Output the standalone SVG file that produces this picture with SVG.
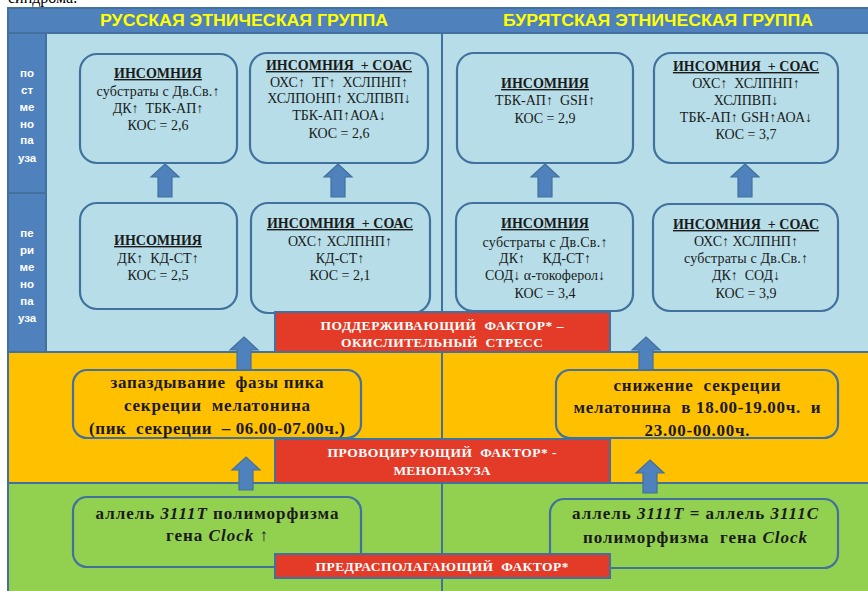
<svg xmlns="http://www.w3.org/2000/svg" xmlns:xlink="http://www.w3.org/1999/xlink" width="868" height="591" viewBox="0 0 868 591" xml:space="preserve">
<style>
text{white-space:pre}
.band{stroke:#41719C;stroke-width:2}
.node{stroke:#41719C;stroke-width:2.2}
.red{fill:#E33B28;stroke:#41719C;stroke-width:2}
.hdr{font-family:"Liberation Sans",Arial,sans-serif;font-weight:bold;font-size:16px;fill:#FFFF00;text-anchor:middle}
.side{font-family:"Liberation Sans",Arial,sans-serif;font-weight:bold;font-size:11.5px;fill:#FFFFFF;text-anchor:middle}
.t{font-family:"Liberation Serif","Times New Roman",serif;font-size:14px;fill:#1a1a1a;text-anchor:middle}
.ti{font-weight:bold;text-decoration:underline}
.b{font-family:"Liberation Serif","Times New Roman",serif;font-size:17px;font-weight:bold;fill:#1a1a1a;text-anchor:middle}
.rt{font-family:"Liberation Serif","Times New Roman",serif;font-size:13.5px;font-weight:bold;fill:#FFFFFF;text-anchor:middle}
.arr{fill:#4F81BD;stroke:#41719C;stroke-width:1.2}
</style>
<defs>
<path id="ua" d="M0,0 L14,13 L7,13 L7,33 L-7,33 L-7,13 L-14,13 Z"/>
</defs>
<rect width="868" height="591" fill="#FFFFFF"/>
<text x="8" y="3" font-family="Liberation Serif,serif" font-size="16" fill="#000">синдрома.</text>
<g id="background">
<rect class="band" x="8" y="8" width="862" height="25" fill="#4F81BD"/>
<rect class="band" x="46" y="33" width="824" height="319" fill="#B7DEE8"/>
<rect class="band" x="8" y="33" width="38" height="160" fill="#4F81BD"/>
<rect class="band" x="8" y="193" width="38" height="159" fill="#4F81BD"/>
<rect class="band" x="8" y="352" width="862" height="131" fill="#FFC000"/>
<rect class="band" x="8" y="483" width="862" height="110" fill="#92D050"/>
<line x1="442" y1="33" x2="442" y2="591" stroke="#41719C" stroke-width="2"/>
<text class="hdr" x="244" y="26" textLength="288" lengthAdjust="spacingAndGlyphs">РУССКАЯ ЭТНИЧЕСКАЯ ГРУППА</text>
<text class="hdr" x="658" y="26" textLength="310" lengthAdjust="spacingAndGlyphs">БУРЯТСКАЯ ЭТНИЧЕСКАЯ ГРУППА</text>
<g class="side">
<text x="27" y="77">по</text><text x="27" y="94">ст</text><text x="27" y="111">ме</text><text x="27" y="128">но</text><text x="27" y="144">па</text><text x="27" y="162">уза</text>
<text x="27" y="237">пе</text><text x="27" y="254">ри</text><text x="27" y="271">ме</text><text x="27" y="288">но</text><text x="27" y="305">па</text><text x="27" y="322">уза</text>
</g>
</g>
<g id="connectors">
<use xlink:href="#ua" class="arr" transform="translate(165,164)"/>
<use xlink:href="#ua" class="arr" transform="translate(338,164)"/>
<use xlink:href="#ua" class="arr" transform="translate(545,164)"/>
<use xlink:href="#ua" class="arr" transform="translate(745,164)"/>
<use xlink:href="#ua" class="arr" transform="translate(244,337)"/>
<use xlink:href="#ua" class="arr" transform="translate(646,337)"/>
<use xlink:href="#ua" class="arr" transform="translate(246,457)"/>
<use xlink:href="#ua" class="arr" transform="translate(650,460)"/>
</g>
<g id="n-ru-post-1">
<rect class="node" x="80" y="54" width="157" height="109" rx="17" fill="#B7DEE8"/>
<text class="t ti" x="158" y="78">ИНСОМНИЯ</text>
<text class="t" x="158" y="96" textLength="123" lengthAdjust="spacing">субстраты с Дв.Св.↑</text>
<text class="t" x="158" y="113">ДК↑  ТБК-АП↑</text>
<text class="t" x="158" y="130">КОС = 2,6</text>
</g>
<g id="n-ru-post-2">
<rect class="node" x="250" y="53" width="178" height="110" rx="17" fill="#B7DEE8"/>
<text class="t ti" x="339" y="70">ИНСОМНИЯ  + СОАС</text>
<text class="t" x="339" y="87">ОХС↑  ТГ↑  ХСЛПНП↑</text>
<text class="t" x="339" y="103">ХСЛПОНП↑ ХСЛПВП↓</text>
<text class="t" x="339" y="120">ТБК-АП↑АОА↓</text>
<text class="t" x="339" y="138">КОС = 2,6</text>
</g>
<g id="n-bu-post-1">
<rect class="node" x="457" y="53" width="176" height="110" rx="17" fill="#B7DEE8"/>
<text class="t ti" x="545" y="88">ИНСОМНИЯ</text>
<text class="t" x="545" y="105">ТБК-АП↑  GSH↑</text>
<text class="t" x="545" y="123">КОС = 2,9</text>
</g>
<g id="n-bu-post-2">
<rect class="node" x="654" y="53" width="184" height="110" rx="17" fill="#B7DEE8"/>
<text class="t ti" x="746" y="71">ИНСОМНИЯ  + СОАС</text>
<text class="t" x="746" y="88">ОХС↑  ХСЛПНП↑</text>
<text class="t" x="746" y="105">ХСЛПВП↓</text>
<text class="t" x="746" y="122">ТБК-АП↑ GSH↑АОА↓</text>
<text class="t" x="746" y="139">КОС = 3,7</text>
</g>
<g id="n-ru-peri-1">
<rect class="node" x="80" y="203" width="157" height="106" rx="17" fill="#B7DEE8"/>
<text class="t ti" x="158" y="245">ИНСОМНИЯ</text>
<text class="t" x="158" y="263">ДК↑  КД-СТ↑</text>
<text class="t" x="158" y="280">КОС = 2,5</text>
</g>
<g id="n-ru-peri-2">
<rect class="node" x="251" y="203" width="179" height="110" rx="17" fill="#B7DEE8"/>
<text class="t ti" x="340" y="228">ИНСОМНИЯ  + СОАС</text>
<text class="t" x="340" y="246">ОХС↑ ХСЛПНП↑</text>
<text class="t" x="340" y="263">КД-СТ↑</text>
<text class="t" x="340" y="280">КОС = 2,1</text>
</g>
<g id="n-bu-peri-1">
<rect class="node" x="456" y="203" width="177" height="108" rx="17" fill="#B7DEE8"/>
<text class="t ti" x="545" y="228">ИНСОМНИЯ</text>
<text class="t" x="545" y="247" textLength="125" lengthAdjust="spacing">субстраты с Дв.Св.↑</text>
<text class="t" x="545" y="263">ДК↑     КД-СТ↑</text>
<text class="t" x="545" y="280">СОД↓ α-токоферол↓</text>
<text class="t" x="545" y="298">КОС = 3,4</text>
</g>
<g id="n-bu-peri-2">
<rect class="node" x="653" y="204" width="185" height="107" rx="17" fill="#B7DEE8"/>
<text class="t ti" x="746" y="229">ИНСОМНИЯ  + СОАС</text>
<text class="t" x="746" y="246">ОХС↑ ХСЛПНП↑</text>
<text class="t" x="746" y="263" textLength="124" lengthAdjust="spacing">субстраты с Дв.Св.↑</text>
<text class="t" x="746" y="280">ДК↑  СОД↓</text>
<text class="t" x="746" y="298">КОС = 3,9</text>
</g>
<g id="f-oxidative">
<rect class="red" x="275" y="312" width="335" height="40"/>
<text class="rt" x="442" y="330" textLength="243" lengthAdjust="spacing">ПОДДЕРЖИВАЮЩИЙ  ФАКТОР* –</text>
<text class="rt" x="442" y="347" textLength="202" lengthAdjust="spacing">ОКИСЛИТЕЛЬНЫЙ  СТРЕСС</text>
</g>
<g id="n-ru-melatonin">
<rect class="node" x="73" y="370" width="288" height="68" rx="14" fill="#FFC000"/>
<text class="b" x="217" y="388" textLength="213" lengthAdjust="spacing">запаздывание  фазы пика</text>
<text class="b" x="217" y="411" textLength="186" lengthAdjust="spacing">секреции  мелатонина</text>
<text class="b" x="217" y="434" textLength="256" lengthAdjust="spacing">(пик  секреции  – 06.00-07.00ч.)</text>
</g>
<g id="n-bu-melatonin">
<rect class="node" x="556" y="370" width="282" height="68" rx="14" fill="#FFC000"/>
<text class="b" x="697" y="391" textLength="167" lengthAdjust="spacing">снижение  секреции</text>
<text class="b" x="697" y="413" textLength="247" lengthAdjust="spacing">мелатонина  в 18.00-19.00ч.  и</text>
<text class="b" x="697" y="436" textLength="105" lengthAdjust="spacing">23.00-00.00ч.</text>
</g>
<g id="f-menopause">
<rect class="red" x="275" y="439" width="335" height="44"/>
<text class="rt" x="442" y="457" textLength="229" lengthAdjust="spacing">ПРОВОЦИРУЮЩИЙ  ФАКТОР* -</text>
<text class="rt" x="442" y="475" textLength="97" lengthAdjust="spacing">МЕНОПАЗУЗА</text>
</g>
<g id="n-ru-clock">
<rect class="node" x="73" y="497" width="288" height="70" rx="14" fill="#92D050"/>
<text class="b" x="217" y="519" textLength="243" lengthAdjust="spacing">аллель <tspan font-style="italic">3111T</tspan> полиморфизма</text>
<text class="b" x="217" y="541" textLength="102" lengthAdjust="spacing">гена <tspan font-style="italic">Clock</tspan> <tspan font-weight="normal">↑</tspan></text>
</g>
<g id="n-bu-clock">
<rect class="node" x="550" y="499" width="288" height="69" rx="14" fill="#92D050"/>
<text class="b" x="695" y="519" textLength="246" lengthAdjust="spacing">аллель <tspan font-style="italic">3111T</tspan> = аллель <tspan font-style="italic">3111C</tspan></text>
<text class="b" x="695" y="543" textLength="224" lengthAdjust="spacing">полиморфизма  гена <tspan font-style="italic">Clock</tspan></text>
</g>
<g id="f-predisposing">
<rect class="red" x="275" y="554" width="335" height="24"/>
<text class="rt" x="442" y="571" textLength="253" lengthAdjust="spacing">ПРЕДРАСПОЛАГАЮЩИЙ  ФАКТОР*</text>
</g>
</svg>
